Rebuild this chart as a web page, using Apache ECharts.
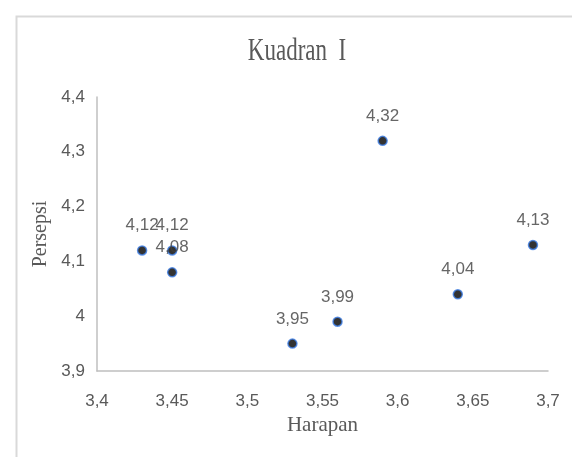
<!DOCTYPE html>
<html>
<head>
<meta charset="utf-8">
<script src="https://cdn.jsdelivr.net/npm/echarts@6/dist/echarts.min.js"></script>
<style>
  html, body { margin: 0; padding: 0; background: #fff; }
  #chart { width: 572px; height: 457px; }
</style>
</head>
<body>
<div id="chart"></div>
<script>
// Harapan (x) vs Persepsi (y) for the items in quadrant I
const harapan  = [3.43, 3.45, 3.45, 3.53, 3.56, 3.59, 3.64, 3.69];
const persepsi = [4.12, 4.12, 4.08, 3.95, 3.99, 4.32, 4.04, 4.13];
const xTicks = { min: 3.4, max: 3.7, step: 0.05 };
const yTicks = { min: 3.9, max: 4.4, step: 0.1 };
const chartTitle = 'Kuadran  I';

const comma = v => String(+v.toFixed(2)).replace('.', ',');
const points = harapan.map((h, i) => [h, persepsi[i]]);

const sans = '"Liberation Sans", Arial, sans-serif';
const serif = '"Liberation Serif", "Times New Roman", serif';

const chart = echarts.init(document.getElementById('chart'), null, { renderer: 'canvas' });
chart.setOption({
  animation: false,
  backgroundColor: '#ffffff',
  graphic: [
    {
      // chart frame
      type: 'rect',
      left: 14, top: 14,
      shape: { width: 600, height: 500 },
      style: { fill: 'none', stroke: '#d9d9d9', lineWidth: 2 },
      silent: true,
      z: -1
    },
    {
      // condensed serif title
      type: 'text',
      x: 297, y: 52,
      scaleX: 0.72,
      style: {
        text: chartTitle,
        align: 'center',
        verticalAlign: 'middle',
        font: '32px ' + serif,
        fill: '#595959'
      },
      silent: true
    }
  ],
  grid: { left: 97, top: 97, right: 24, bottom: 86, containLabel: false },
  xAxis: {
    type: 'value',
    min: xTicks.min, max: xTicks.max, interval: xTicks.step,
    name: 'Harapan',
    nameLocation: 'middle',
    nameGap: 42,
    nameTextStyle: { fontFamily: serif, fontSize: 21, color: '#595959' },
    axisLine: { show: true, onZero: false, lineStyle: { color: '#bfbfbf', width: 1.5 } },
    axisTick: { show: false },
    splitLine: { show: false },
    axisLabel: { margin: 22, fontFamily: sans, fontSize: 17, color: '#595959', formatter: comma }
  },
  yAxis: {
    type: 'value',
    min: yTicks.min, max: yTicks.max, interval: yTicks.step,
    name: 'Persepsi',
    nameLocation: 'middle',
    nameRotate: 90,
    nameGap: 39,
    nameTextStyle: { fontFamily: serif, fontSize: 20, color: '#595959' },
    axisLine: { show: true, onZero: false, lineStyle: { color: '#bfbfbf', width: 1.5 } },
    axisTick: { show: false },
    splitLine: { show: false },
    axisLabel: { margin: 12, fontFamily: sans, fontSize: 17, color: '#595959', formatter: comma }
  },
  series: [{
    type: 'scatter',
    data: points,
    symbol: 'circle',
    symbolSize: 9,
    itemStyle: { color: '#000000', borderColor: '#3d7ee6', borderWidth: 1.5 },
    label: {
      show: true,
      position: 'top',
      distance: 11,
      fontFamily: sans,
      fontSize: 17,
      color: '#404040',
      formatter: p => comma(p.value[1])
    }
  }]
});
</script>
</body>
</html>
